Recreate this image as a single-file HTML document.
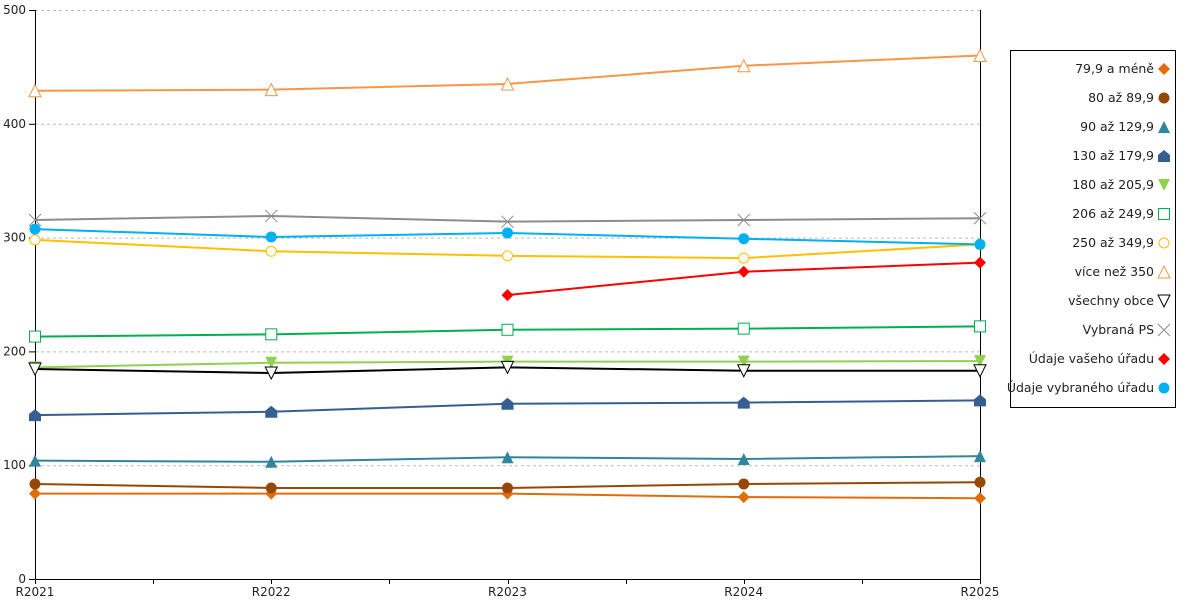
<!DOCTYPE html>
<html><head><meta charset="utf-8"><style>
body{margin:0;background:#fff;font-family:"DejaVu Sans","Liberation Sans",sans-serif;}
svg text{font-family:"DejaVu Sans","Liberation Sans",sans-serif;font-size:12px;fill:#222;}
svg .lg{font-size:12.5px;}
</style></head><body>
<svg id="chart" width="1200" height="600" xmlns="http://www.w3.org/2000/svg"></svg>
<script>
const categories=["R2021","R2022","R2023","R2024","R2025"];
const yTicks=[0,100,200,300,400,500];
const s_799=[75,75,75,72,71];
const s_80=[83.5,80,80,83.5,85];
const s_90=[104,103,107,105.5,108];
const s_130=[144,147,154,155,157];
const s_180=[186,190,191,191,191.5];
const s_206=[213,215,219,220,222];
const s_250=[298,288,284,282,294];
const s_350=[429,430,435,451,460];
const s_all=[184.5,181,186,183,183];
const s_ps=[315.5,319,314,315.5,317];
const s_vas=[null,null,249.5,270,278];
const s_vyb=[307.5,300.5,304,299,294];
const labels=["79,9 a méně","80 až 89,9","90 až 129,9","130 až 179,9","180 až 205,9","206 až 249,9","250 až 349,9","více než 350","všechny obce","Vybraná PS","Údaje vašeho úřadu","Údaje vybraného úřadu"];
const seriesData=[s_799,s_80,s_90,s_130,s_180,s_206,s_250,s_350,s_all,s_ps,s_vas,s_vyb];
const colors=["#e36c0a","#974806","#31859c","#365f91","#92d050","#00b050","#ffc000","#f79646","#000000","#8c8c8c","#ff0000","#00b0f0"];
const markers=["diamond","circle","tri","house","tridown","square","ocircle","otri","otridown","cross","diamond","circle"];
const order=[0,1,2,3,4,5,6,7,9,11,10,8];
const NS="http://www.w3.org/2000/svg";
const svg=document.getElementById('chart');
const X0=35,X1=980,Y0=579,Y1=10;
const xs=i=>X0+i*(X1-X0)/(categories.length-1);
const ys=v=>Y0-(v/500)*(Y0-Y1);
function mk(t,a,p){const e=document.createElementNS(NS,t);for(const k in a)e.setAttribute(k,a[k]);(p||svg).appendChild(e);return e;}
yTicks.forEach(t=>{
 if(t>0){const g=mk('line',{x1:X0,x2:X1,y1:ys(t)+0.5,y2:ys(t)+0.5,stroke:'#bbb','stroke-dasharray':'3,3'});
 }
 const tk=mk('line',{x1:X0-6,x2:X0,y1:ys(t)+0.5,y2:ys(t)+0.5,stroke:'#000'});
 
 const tx=mk('text',{x:X0-9,y:ys(t)+4,'text-anchor':'end'});tx.textContent=t;
 
});
let a=mk('line',{x1:X0+0.5,x2:X0+0.5,y1:Y1,y2:Y0,stroke:'#000'});
a=mk('line',{x1:X1+0.5,x2:X1+0.5,y1:Y1,y2:Y0,stroke:'#000'});
a=mk('line',{x1:X0,x2:X1,y1:Y0+0.5,y2:Y0+0.5,stroke:'#000'});
for(let i=0;i<categories.length*2-1;i++){const x=Math.round(X0+i*(X1-X0)/((categories.length-1)*2))+0.5;
 const t=mk('line',{x1:x,x2:x,y1:Y0,y2:Y0+5,stroke:'#000'});}
categories.forEach((c,i)=>{const t=mk('text',{x:xs(i),y:Y0+17,'text-anchor':'middle'});t.textContent=c;
 });
function marker(type,x,y,col,p){
 const r=6;let e;
 if(type==='diamond')e=mk('polygon',{points:`${x},${y-r} ${x+r},${y} ${x},${y+r} ${x-r},${y}`,fill:col},p);
 else if(type==='circle')e=mk('circle',{cx:x,cy:y,r:5.5,fill:col},p);
 else if(type==='ocircle')e=mk('circle',{cx:x,cy:y,r:5,fill:'#fff',stroke:col},p);
 else if(type==='tri')e=mk('polygon',{points:`${x},${y-r} ${x+r},${y+r} ${x-r},${y+r}`,fill:col},p);
 else if(type==='otri')e=mk('polygon',{points:`${x},${y-r} ${x+r},${y+r} ${x-r},${y+r}`,fill:'#fff',stroke:col},p);
 else if(type==='tridown')e=mk('polygon',{points:`${x-r},${y-r} ${x+r},${y-r} ${x},${y+r}`,fill:col},p);
 else if(type==='otridown')e=mk('polygon',{points:`${x-r},${y-r} ${x+r},${y-r} ${x},${y+r}`,fill:'#fff',stroke:col},p);
 else if(type==='house')e=mk('polygon',{points:`${x},${y-r} ${x+r},${y-1} ${x+r},${y+r} ${x-r},${y+r} ${x-r},${y-1}`,fill:col},p);
 else if(type==='square')e=mk('rect',{x:x-5.5,y:y-5.5,width:11,height:11,fill:'#fff',stroke:col},p);
 else if(type==='cross')e=mk('path',{d:`M${x-6},${y-6}L${x+6},${y+6}M${x-6},${y+6}L${x+6},${y-6}`,stroke:col,fill:'none'},p);
 return e;
}
order.forEach(si=>{
 const d=seriesData[si];const g=mk('g',{});
 
 let pts=[];d.forEach((v,i)=>{if(v!==null)pts.push(xs(i)+','+ys(v));});
 const pl=mk('polyline',{points:pts.join(' '),fill:'none',stroke:colors[si],'stroke-width':2},g);
 
 d.forEach((v,i)=>{if(v===null)return;const m=marker(markers[si],xs(i),ys(v),colors[si],g);
  });
});
const lg=mk('g',{});
const lb=mk('rect',{x:1010.5,y:50.5,width:165,height:357,fill:'#fff',stroke:'#000'},lg);

labels.forEach((l,i)=>{const y=69+i*29;
 const t=mk('text',{x:1154,y:y+4,'text-anchor':'end','class':'lg'},lg);t.textContent=l;
 
 const m=marker(markers[i],1164,y,colors[i],lg);
 
});
</script>
</body></html>
